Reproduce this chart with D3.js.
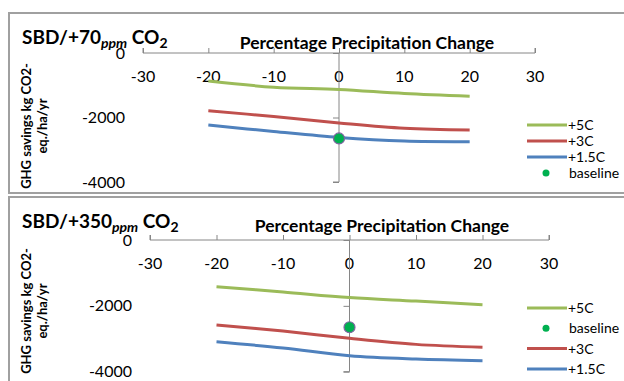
<!DOCTYPE html>
<html>
<head>
<meta charset="utf-8">
<script src="https://cdn.jsdelivr.net/npm/d3@7"></script>
<style>
  body { margin: 0; background: #fff; }
  text { font-family: Lato, "Open Sans", sans-serif; fill: #000; }
</style>
</head>
<body>
<script>
// precipitation change (%) at which each series was computed
var precip = [-20, -10, 0, 10, 20];
var xTicks = [-30, -20, -10, 0, 10, 20, 30];
var yTicks = [0, -2000, -4000];

// SBD / +70 ppm CO2
var p70_5C  = [-870, -1060, -1130, -1255, -1340];
var p70_3C  = [-1790, -1970, -2170, -2335, -2390];
var p70_15C = [-2235, -2435, -2620, -2730, -2750];

// SBD / +350 ppm CO2
var p350_5C  = [-1420, -1580, -1750, -1855, -1965];
var p350_3C  = [-2580, -2765, -2985, -3170, -3260];
var p350_15C = [-3090, -3280, -3515, -3615, -3665];

var baseline = [{x: 0, y: -2650}];

var colors = {"+5C": "#9bbb59", "+3C": "#c0504d", "+1.5C": "#4f81bd", "baseline": "#00b050"};

var svg = d3.select("body").append("svg")
    .attr("width", 624)
    .attr("height", 381);

function panel(opt) {
    var g = svg.append("g");

    // frame
    g.append("rect")
        .attr("x", 9).attr("y", opt.top)
        .attr("width", 630).attr("height", opt.h)
        .attr("fill", "#fff")
        .attr("stroke", "#a0a0a0").attr("stroke-width", 2);

    var x = d3.scaleLinear().domain([-30, 30]).range(opt.xr);
    var y = d3.scaleLinear().domain([0, -4000]).range(opt.yr);

    // x axis (ticks point up, labels below)
    var xa = g.append("g").attr("transform", "translate(0," + y(0) + ")")
        .call(d3.axisTop(x).tickValues(xTicks).tickSize(5).tickFormat(""));
    xa.select(".domain").attr("stroke", "#868686").attr("d", "M" + opt.xr[0] + ",-5V0H" + opt.xr[1] + "V-5");
    xa.selectAll(".tick line").attr("stroke", "#868686");
    g.selectAll(".xl").data(xTicks).enter().append("text")
        .attr("x", function(d) { return x(d); })
        .attr("y", y(0) + 29)
        .attr("text-anchor", "middle")
        .style("font-size", "16px")
        .text(function(d) { return d; });

    // y axis at x = 0
    var ya = g.append("g").attr("transform", "translate(" + x(0) + ",0)")
        .call(d3.axisLeft(y).tickValues(yTicks).tickSize(6).tickFormat(""));
    ya.select(".domain").attr("stroke", "#868686").attr("d", "M0," + opt.yr[0] + "V" + opt.yr[1] + "H-6");
    ya.selectAll(".tick line").attr("stroke", "#868686");
    g.selectAll(".yl").data(yTicks).enter().append("text")
        .attr("x", opt.xr[0] - 18)
        .attr("y", function(d) { return y(d); })
        .attr("dy", "0.35em")
        .attr("text-anchor", "end")
        .style("font-size", "16px")
        .text(function(d) { return d; });

    // series
    var line = d3.line()
        .x(function(d, i) { return x(precip[i]); })
        .y(function(d) { return y(d); })
        .curve(d3.curveCatmullRom.alpha(0.5));

    opt.series.forEach(function(s) {
        g.append("path")
            .attr("d", line(s.values))
            .attr("fill", "none")
            .attr("stroke", colors[s.name])
            .attr("stroke-width", 3);
    });

    g.selectAll(".base").data(baseline).enter().append("circle")
        .attr("cx", function(d) { return x(d.x); })
        .attr("cy", function(d) { return y(d.y); })
        .attr("r", 5.5)
        .attr("fill", colors.baseline)
        .attr("stroke", "#8064a2").attr("stroke-width", 1.2);

    // chart title
    var t = g.append("text")
        .attr("x", 22).attr("y", opt.titleY)
        .style("font-size", "19px").style("font-weight", "bold");
    t.append("tspan").text(opt.title);
    t.append("tspan").attr("dy", 4).style("font-size", "14px").style("font-style", "italic").text("ppm");
    t.append("tspan").attr("dy", -4).text(" CO");
    t.append("tspan").attr("dy", 4).style("font-size", "14px").text("2");

    // axis titles
    g.append("text")
        .attr("x", opt.xTitleX).attr("y", opt.xTitleY)
        .attr("text-anchor", "middle")
        .style("font-size", "17.5px").style("font-weight", "bold")
        .text("Percentage Precipitation Change");

    var yt = g.append("text")
        .attr("transform", "translate(31," + opt.yTitleY + ") rotate(-90)")
        .attr("text-anchor", "middle")
        .style("font-size", "13px").style("font-weight", "bold");
    yt.append("tspan").attr("x", 0).attr("y", 0).text("GHG savings kg CO2-");
    yt.append("tspan").attr("x", 0).attr("y", 16).text("eq./ha/yr");

    // legend
    var lg = g.selectAll(".lg").data(opt.legend).enter().append("g")
        .attr("transform", function(d, i) { return "translate(527," + (opt.legY + i * opt.legStep) + ")"; });
    lg.filter(function(d) { return d != "baseline"; }).append("line")
        .attr("x2", 40)
        .attr("stroke", function(d) { return colors[d]; })
        .attr("stroke-width", 3);
    lg.filter(function(d) { return d == "baseline"; }).append("circle")
        .attr("cx", 19).attr("r", 3.5)
        .attr("fill", colors.baseline);
    lg.append("text")
        .attr("x", function(d) { return d == "baseline" ? 42 : 41; })
        .attr("dy", "0.35em")
        .style("font-size", "14px")
        .text(function(d) { return d; });
}

panel({
    top: 13, h: 180,
    xr: [143, 535], yr: [53, 182],
    title: "SBD/+70", titleY: 44,
    xTitleX: 367, xTitleY: 49, yTitleY: 126,
    series: [{name: "+5C", values: p70_5C}, {name: "+3C", values: p70_3C}, {name: "+1.5C", values: p70_15C}],
    legend: ["+5C", "+3C", "+1.5C", "baseline"], legY: 125, legStep: 16
});

panel({
    top: 197, h: 200,
    xr: [150, 549], yr: [240, 371.7],
    title: "SBD/+350", titleY: 228,
    xTitleX: 382, xTitleY: 232, yTitleY: 311,
    series: [{name: "+5C", values: p350_5C}, {name: "+3C", values: p350_3C}, {name: "+1.5C", values: p350_15C}],
    legend: ["+5C", "baseline", "+3C", "+1.5C"], legY: 308, legStep: 20.3
});
</script>
</body>
</html>
